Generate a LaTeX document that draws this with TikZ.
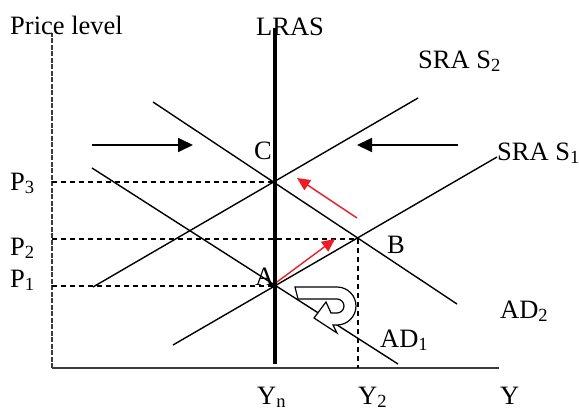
\documentclass[tikz,border=0pt]{standalone}
\usepackage{fontspec}
\setmainfont{Liberation Serif}
\usetikzlibrary{arrows.meta}
\definecolor{adRed}{HTML}{EE1C24}
\definecolor{axGray}{HTML}{3A3A3A}

\begin{document}
\begin{tikzpicture}[x=1pt, y=-1pt,
    lbl/.style={font=\fontsize{26.5}{26.5}\selectfont, inner sep=0pt, anchor=base west},
    crv/.style={line width=1.4pt},
    guide/.style={line width=1.3pt, dash pattern=on 5pt off 4pt},
    arr/.style={-{Triangle[length=15pt, width=14pt]}, line width=1.8pt},
    rarr/.style={-{Triangle[length=13pt, width=12pt]}, line width=1.4pt, adRed}]
  \useasboundingbox (0,0) rectangle (579,413);
  % axes
  \coordinate (O) at (52,368);
  \coordinate (ytop) at (52,33);
  \coordinate (xend) at (499,368);
  \draw[axGray, line width=2.2pt, dash pattern=on 5pt off 1.5pt] (O) -- (ytop);
  \draw[axGray, line width=2pt] (O) -- (xend);
  % equilibria
  \coordinate (A) at (275,286);
  \coordinate (B) at (358,239);
  \coordinate (C) at (275,182);
  \draw[guide] (O |- C) -- (C);
  \draw[guide] (O |- B) -- (B);
  \draw[guide] (O |- A) -- (A);
  \draw[guide] (B) -- (B |- O);
  % curves
  \coordinate (ad1a) at (92,168);  \coordinate (ad1b) at (398,364);
  \coordinate (ad2a) at (153,102); \coordinate (ad2b) at (457,304);
  \coordinate (s1a) at (173,345);  \coordinate (s1b) at (497,157);
  \coordinate (s2a) at (93,287);   \coordinate (s2b) at (418,98);
  \draw[crv] (ad1a) -- (ad1b);
  \draw[crv] (ad2a) -- (ad2b);
  \draw[crv] (s1a) -- (s1b);
  \draw[crv] (s2a) -- (s2b);
  % labels
  \node[lbl] (plvl) at (10,34) {Price level};
  \node[lbl] (lras) at (256,35) {LRAS};
  \node[lbl] (s2) at (418,68) {SRA S\textsubscript{2}};
  \node[lbl] (s1) at (497,160) {SRA S\textsubscript{1}};
  \node[lbl] (lC) at (254,159) {C};
  \node[lbl] (lA) at (255,285) {A};
  \node[lbl] (lB) at (387,253) {B};
  \node[lbl] (p3) at (10,190) {P\textsubscript{3}};
  \node[lbl] (p2) at (10,255) {P\textsubscript{2}};
  \node[lbl] (p1) at (10,287) {P\textsubscript{1}};
  \node[lbl] (ad2) at (500,318) {AD\textsubscript{2}};
  \node[lbl] (ad1) at (380,347) {AD\textsubscript{1}};
  \node[lbl] (yn) at (257,404) {Y\textsubscript{n}};
  \node[lbl] (y2) at (358,404) {Y\textsubscript{2}};
  \node[lbl] (yax) at (500,404) {Y};
  % LRAS
  \coordinate (lt) at (275,28);
  \coordinate (lb) at (275,364);
  \draw[line width=4.5pt] (lt) -- (lb);
  % shifts
  \coordinate (l1) at (92,145);  \coordinate (l2) at (193,145);
  \coordinate (r1) at (458,145); \coordinate (r2) at (357,145);
  \draw[arr] (l1) -- (l2);
  \draw[arr] (r1) -- (r2);
  \coordinate (ra1) at (277,282); \coordinate (ra2) at (335,239);
  \coordinate (rb1) at (357,218); \coordinate (rb2) at (297,178);
  \draw[rarr] (ra1) -- (ra2);
  \draw[rarr] (rb1) -- (rb2);
  % u-turn
  \draw[fill=white, line width=1.2pt] (295,287) -- (337,287)
    arc[start angle=-90, end angle=90, radius=19] -- (333,325) -- (337,333)
    -- (314,318) -- (326,302) -- (331,313) -- (337,313)
    arc[start angle=90, end angle=-90, radius=7] -- (298,299) -- cycle;
\end{tikzpicture}
\end{document}
